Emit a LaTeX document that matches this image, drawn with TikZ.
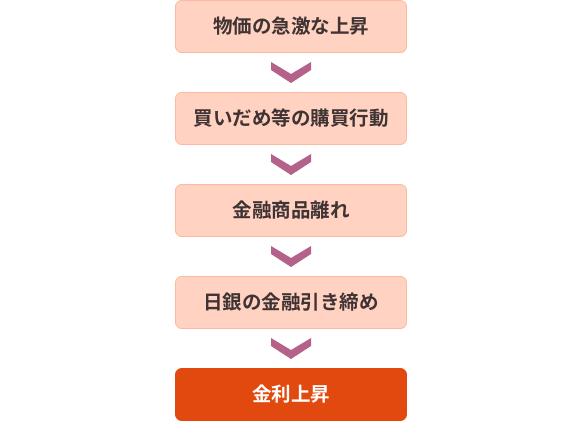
\documentclass[tikz,border=0pt]{standalone}
\usepackage{fontspec}
\setmainfont{Noto Sans CJK JP}[BoldFont={Noto Sans CJK JP Bold}]
\usetikzlibrary{positioning,calc}
\definecolor{boxfill}{HTML}{FFD2C2}
\definecolor{boxline}{HTML}{FCB9A0}
\definecolor{lastfill}{HTML}{E2490F}
\definecolor{chevcol}{HTML}{B5628A}
\definecolor{textcol}{HTML}{3F3333}
\begin{document}
\begin{tikzpicture}[x=1pt,y=1pt,
  every node/.style={font=\bfseries\fontsize{19.5}{21}\selectfont},
  stepbox/.style={draw=boxline,fill=boxfill,text=textcol,rounded corners=6pt,
    minimum width=231pt,minimum height=52pt,inner sep=0pt,line width=0.8pt},
  endbox/.style={stepbox,draw=lastfill,fill=lastfill,text=white},
  chev/.style={fill=chevcol}]
\useasboundingbox (0,0) rectangle (580,-422);
\node[stepbox] (rise) at (291,-26.5) {物価の急激な上昇};
\node[stepbox,below=39.2pt of rise] (buy) {買いだめ等の購買行動};
\node[stepbox,below=39.2pt of buy] (away) {金融商品離れ};
\node[stepbox,below=39.2pt of away] (boj) {日銀の金融引き締め};
\node[endbox,below=39.2pt of boj] (rate) {金利上昇};
% chevrons between the boxes
\foreach \a/\b in {rise/buy,buy/away,away/boj,boj/rate}
  \fill[chev] ($(\a.south)!0.5!(\b.north)$) ++(-20,10.5) -- ++(20,-12) -- ++(20,12)
    -- ++(0,-8) -- ++(-20,-13) -- ++(-20,13) -- cycle;
\end{tikzpicture}
\end{document}
